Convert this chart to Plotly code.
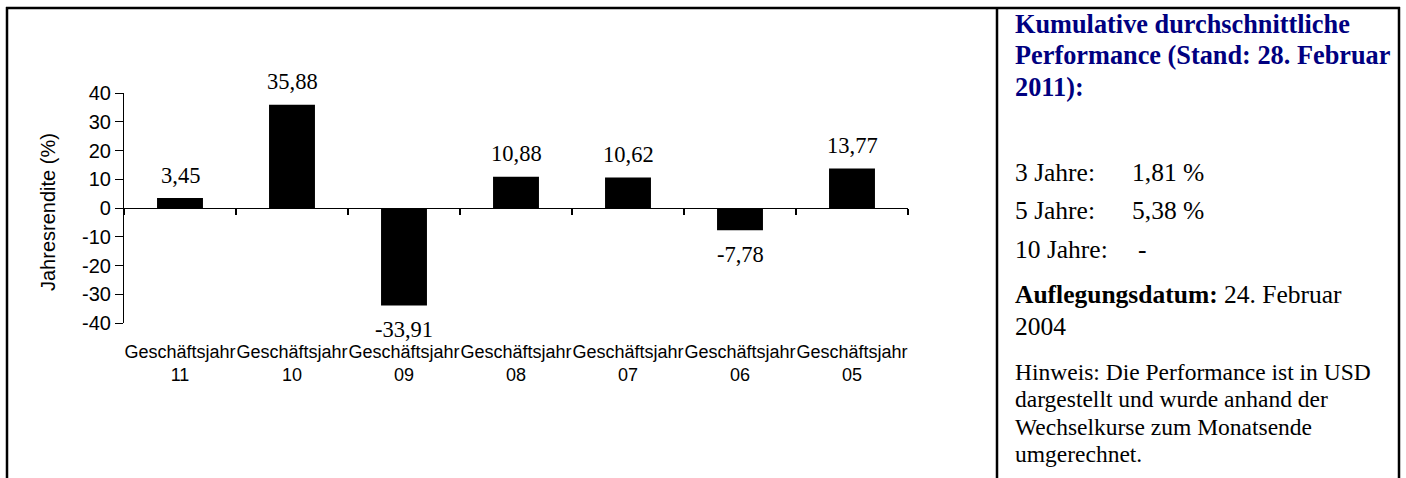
import plotly.graph_objects as go

# ---- data ----
categories = ["Geschäftsjahr<br>11", "Geschäftsjahr<br>10", "Geschäftsjahr<br>09",
              "Geschäftsjahr<br>08", "Geschäftsjahr<br>07", "Geschäftsjahr<br>06",
              "Geschäftsjahr<br>05"]
returns = [3.45, 35.88, -33.91, 10.88, 10.62, -7.78, 13.77]
y_ticks = [-40, -30, -20, -10, 0, 10, 20, 30, 40]
y_title = "Jahresrendite (%)"

panel_title = ["Kumulative durchschnittliche", "Performance (Stand: 28. Februar", "2011):"]
perf_labels = ["3 Jahre:", "5 Jahre:", "10 Jahre:"]
perf_values = ["1,81 %", "5,38 %", "-"]
launch_label = "Auflegungsdatum:"
launch_date = ["24. Februar", "2004"]
note_lines = ["Hinweis: Die Performance ist in USD", "dargestellt und wurde anhand der",
              "Wechselkurse zum Monatsende", "umgerechnet."]

# ---- layout geometry ----
W, H = 1406, 478
ML, MR, MT, MB = 124, 498, 93, 155
PW, PH = W - ML - MR, H - MT - MB

def px(x):
    return (x - ML) / PW

def py(y):
    return (H - MB - y) / PH

def fmt(v):
    return f"{v:.2f}".replace(".", ",")

fig = go.Figure()
fig.add_trace(go.Bar(
    x=categories, y=returns,
    marker=dict(color="black", line=dict(color="black", width=0)),
    hoverinfo="skip", showlegend=False,
))

serif = "Liberation Serif, Times New Roman, serif"
sans = "Liberation Sans, Arial, sans-serif"

annotations = []
# value labels
for c, v in zip(categories, returns):
    annotations.append(dict(
        x=c, y=v, xref="x", yref="y", text=fmt(v), showarrow=False,
        yanchor="middle", xanchor="center", yshift=23 if v >= 0 else -24,
        font=dict(family=serif, size=22.5, color="black"),
    ))

# y axis title
annotations.append(dict(
    x=px(48), y=py(212), xref="paper", yref="paper", text=y_title, showarrow=False,
    textangle=-90, xanchor="center", yanchor="middle",
    font=dict(family=sans, size=20, color="black"),
))

# right panel
TX = 1013
def line(text, x, baseline, size, color="black"):
    annotations.append(dict(
        x=px(x), y=py(baseline - 0.34 * size), xref="paper", yref="paper",
        text=text, showarrow=False, xanchor="left", yanchor="middle",
        font=dict(family=serif, size=size, color=color),
    ))

for t, b in zip(panel_title, [33, 64.5, 96]):
    line(f"<b>{t}</b>", TX, b, 26.3, "#000080")

for lab, val, b, vx in zip(perf_labels, perf_values, [181, 219.5, 258], [1130, 1130, 1136]):
    line(lab, TX, b, 25.5)
    line(val, vx, b, 25.5)

line(f"<b>{launch_label}</b> {launch_date[0]}", TX, 303, 25.5)
line(launch_date[1], TX, 335, 25.5)

for t, b in zip(note_lines, [380, 407, 434.5, 461.5]):
    line(t, TX, b, 23.5)

# borders
shapes = []
def seg(x0, y0, x1, y1):
    shapes.append(dict(type="line", xref="paper", yref="paper",
                       x0=px(x0), y0=py(y0), x1=px(x1), y1=py(y1),
                       line=dict(color="black", width=2.5)))
seg(6, 8, 1400, 8)
seg(7, 7, 7, 490)
seg(997, 7, 997, 490)
seg(1399, 7, 1399, 490)

fig.update_layout(
    width=W, height=H,
    margin=dict(l=ML, r=MR, t=MT, b=MB, autoexpand=False),
    paper_bgcolor="white", plot_bgcolor="white",
    bargap=0.59,
    xaxis=dict(
        type="category", categoryorder="array", categoryarray=categories,
        anchor="free", position=0.5,
        showline=True, linecolor="black", linewidth=1.2,
        ticks="outside", tickson="boundaries", ticklen=6, tickcolor="black", tickwidth=1.5,
        ticklabelstandoff=127, tickangle=0,
        tickfont=dict(family=sans, size=18, color="black"),
        showgrid=False, zeroline=False, fixedrange=True,
    ),
    yaxis=dict(
        range=[-40, 40], tickvals=y_ticks, ticktext=[str(v) for v in y_ticks],
        showline=True, linecolor="black", linewidth=1.2,
        ticks="outside", ticklen=8, tickcolor="black", tickwidth=1.2,
        tickfont=dict(family=sans, size=20, color="black"),
        showgrid=False, zeroline=False, fixedrange=True,
    ),
    annotations=annotations,
    shapes=shapes,
    font=dict(family=sans, color="black"),
)

fig.write_html("out.html", config={"displayModeBar": False},
               post_script="document.body.style.margin='0';")
